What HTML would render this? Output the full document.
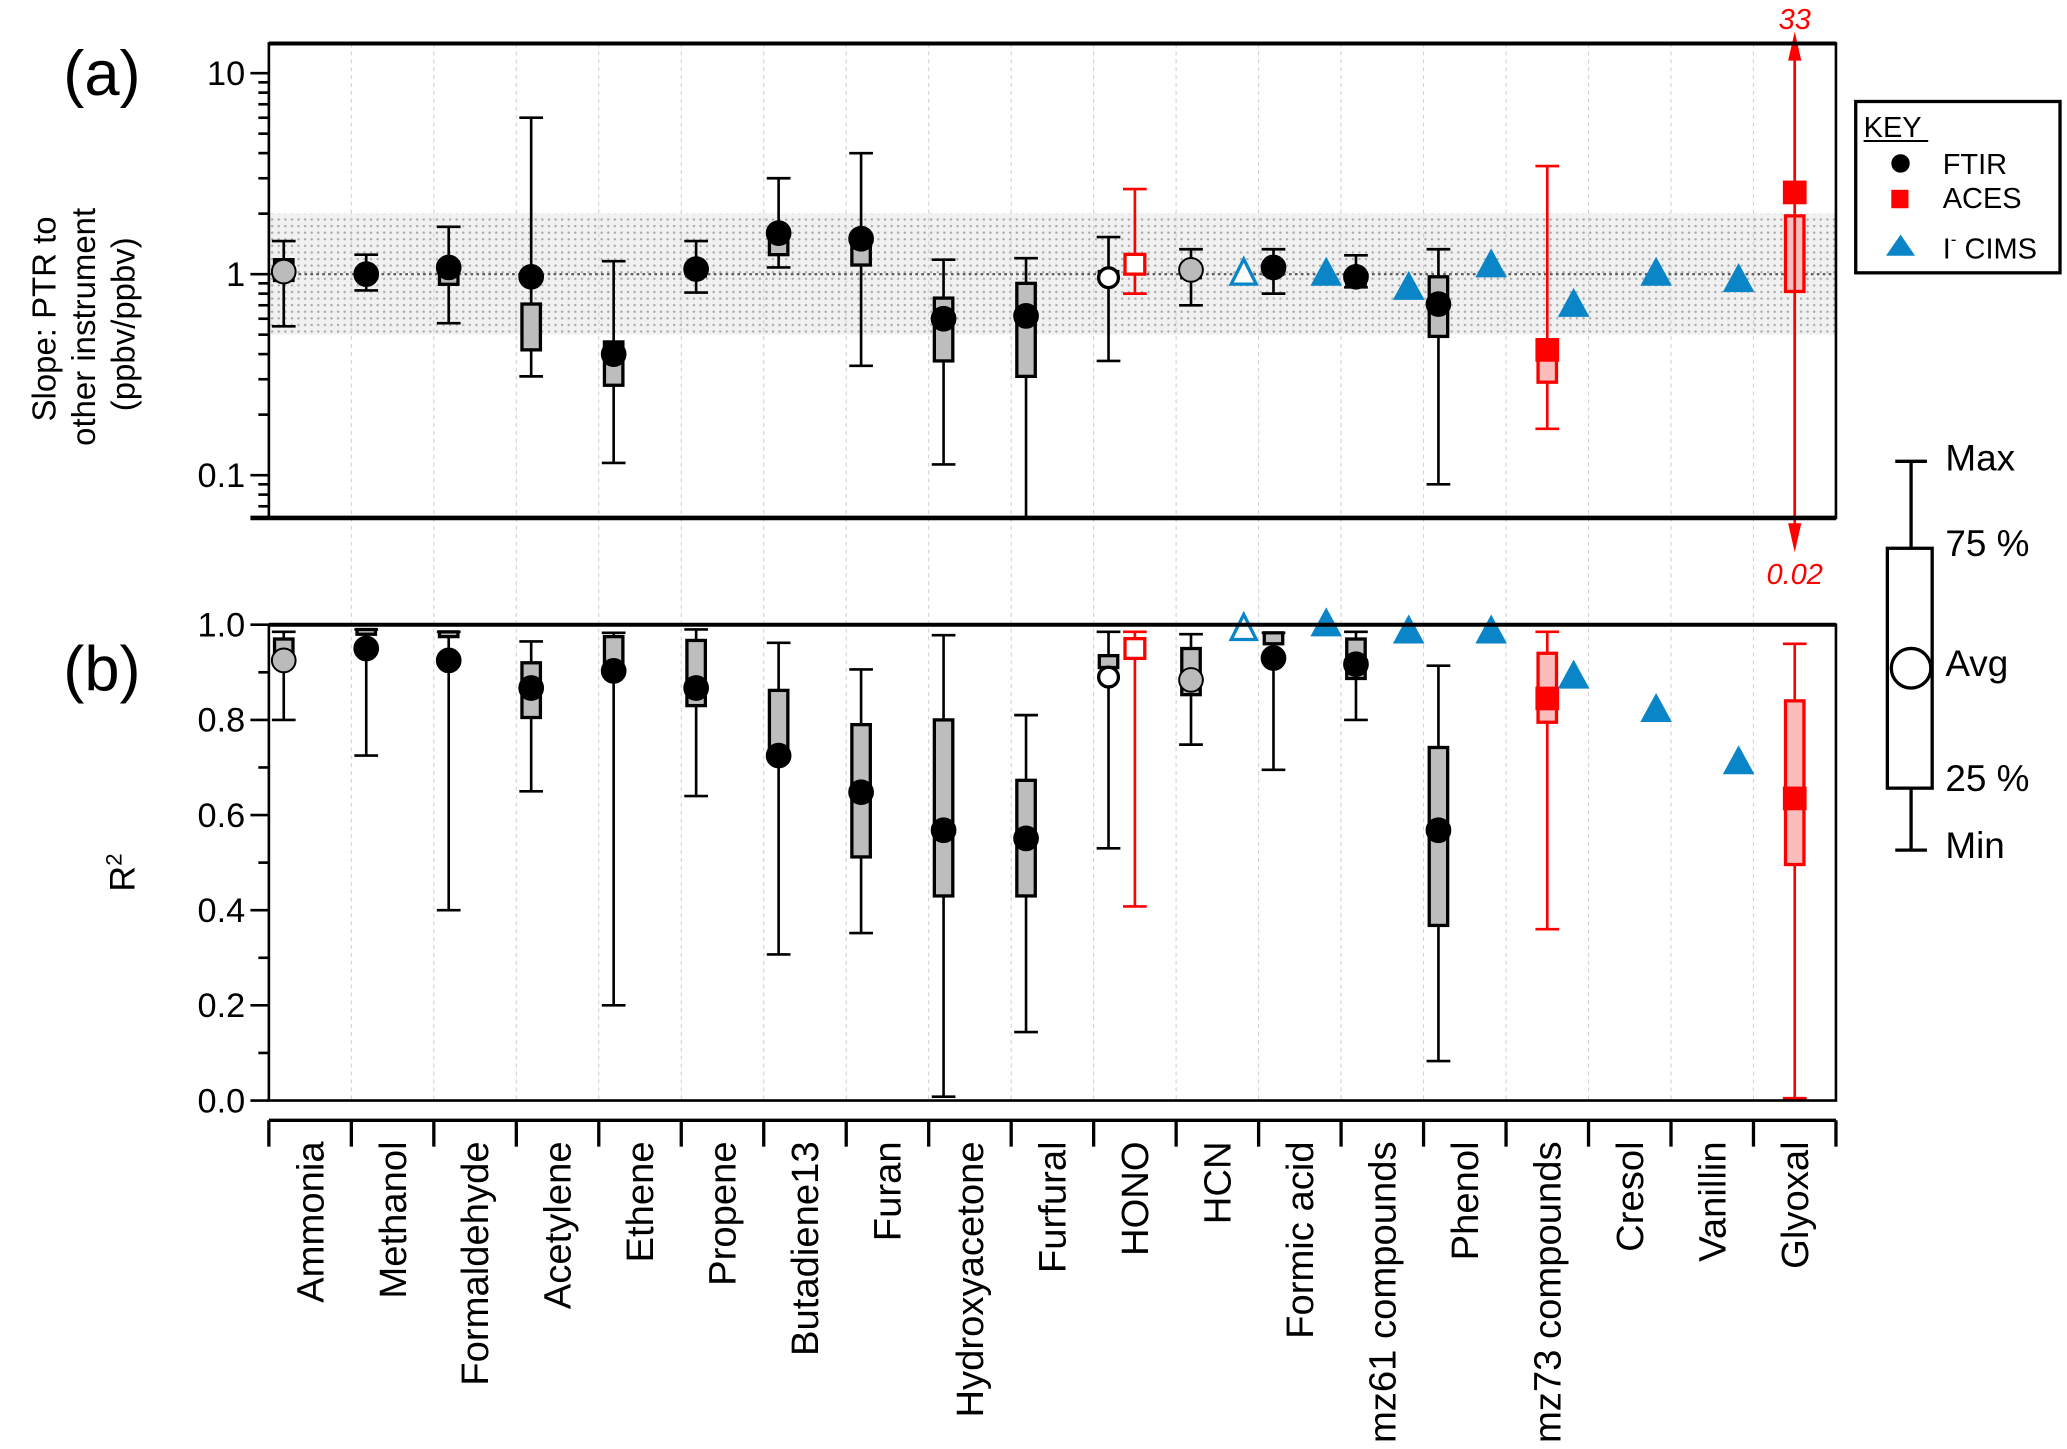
<!DOCTYPE html>
<html><head><meta charset="utf-8"><style>
html,body{margin:0;padding:0;background:#fff;}
svg{display:block;font-family:"Liberation Sans",sans-serif;}
</style></head><body>
<svg id="chart" width="2067" height="1449" viewBox="0 0 1568.3 1099.4" xmlns="http://www.w3.org/2000/svg">
<defs>
<pattern id="dots" width="5" height="5" patternUnits="userSpaceOnUse">
<rect width="5" height="5" fill="#f1f1f1"/>
<circle cx="1.5" cy="1.5" r="0.9" fill="#a8a8a8"/>
</pattern>
</defs>
<g id="root"></g>
</svg>
<script>
const categories=["Ammonia","Methanol","Formaldehyde","Acetylene","Ethene","Propene","Butadiene13","Furan","Hydroxyacetone","Furfural","HONO","HCN","Formic acid","mz61 compounds","Phenol","mz73 compounds","Cresol","Vanillin","Glyoxal"];
// [min, q1, avg, q3, max]
const ftirSlope=[[0.55,0.93,1.03,1.18,1.46],[0.83,0.98,1.0,1.02,1.25],[0.57,0.89,1.08,1.15,1.72],[0.31,0.42,0.97,0.71,6.0],[0.115,0.28,0.40,0.46,1.16],[0.81,0.98,1.06,1.12,1.46],[1.08,1.25,1.6,1.62,3.0],[0.35,1.11,1.5,1.39,4.0],[0.113,0.37,0.6,0.76,1.18],[0.04,0.31,0.62,0.9,1.2],[0.37,0.93,0.96,1.03,1.53],[0.7,0.96,1.05,1.12,1.33],[0.8,1.0,1.08,1.12,1.33],[0.86,0.89,0.97,1.0,1.24],[0.09,0.49,0.71,0.97,1.33],null,null,null,null];
const acesSlope=[null,null,null,null,null,null,null,null,null,null,[0.8,1.03,1.12,1.22,2.65],null,null,null,null,[0.17,0.29,0.42,0.42,3.45],null,null,[0.02,0.82,2.55,1.95,33]];
const cimsSlope=[null,null,null,null,null,null,null,null,null,null,null,1.0,1.0,0.85,1.1,0.7,1.0,0.93,null];
const ftirR2=[[0.80,0.93,0.925,0.97,0.985],[0.725,0.98,0.95,0.99,0.99],[0.40,0.975,0.925,0.985,0.985],[0.65,0.805,0.867,0.92,0.965],[0.2,0.915,0.903,0.975,0.983],[0.64,0.83,0.867,0.967,0.99],[0.307,0.726,0.725,0.862,0.962],[0.352,0.512,0.648,0.79,0.906],[0.008,0.43,0.568,0.8,0.978],[0.144,0.43,0.551,0.673,0.81],[0.53,0.91,0.89,0.935,0.985],[0.748,0.853,0.884,0.95,0.98],[0.695,0.96,0.93,0.983,0.983],[0.8,0.887,0.917,0.97,0.985],[0.083,0.368,0.568,0.742,0.914],null,null,null,null];
const acesR2=[null,null,null,null,null,null,null,null,null,null,[0.408,0.94,0.95,0.97,0.985],null,null,null,null,[0.36,0.795,0.845,0.94,0.985],null,null,[0.005,0.496,0.635,0.84,0.96]];
const cimsR2=[null,null,null,null,null,null,null,null,null,null,null,0.99,1.0,0.985,0.985,0.89,0.82,0.71,null];
const ftirStyle=["gray","black","black","black","black","black","black","black","black","black","open","gray","black","black","black",null,null,null,null];
const acesOpen=[false,false,false,false,false,false,false,false,false,false,true,false,false,false,false,false,false,false,false];
const cimsOpen=[false,false,false,false,false,false,false,false,false,false,false,true,false,false,false,false,false,false,false];
const slopeTicks=[10,1,0.1];
const slopeTickLabels=["10","1","0.1"];
const r2Ticks=[0,0.2,0.4,0.6,0.8,1.0];
const r2TickLabels=["0.0","0.2","0.4","0.6","0.8","1.0"];

const NS="http://www.w3.org/2000/svg";
const root=document.getElementById('root');
const X0=204,X1=1393,N=categories.length,CW=(X1-X0)/N;
const A_TOP=33,A_BOT=393,B_TOP=474,B_BOT=835;
const xc=i=>X0+(i+0.5)*CW;
const yA=v=>208-152.5*Math.log10(v);
const yB=v=>835-361*v;
function el(tag,attrs,parent,txt){const e=document.createElementNS(NS,tag);for(const k in attrs)e.setAttribute(k,attrs[k]);if(txt!==undefined)e.textContent=txt;(parent||root).appendChild(e);return e;}
const clipA=Math.max; 
function clampA(y){return Math.min(Math.max(y,A_TOP),A_BOT);}

// band
const band=el('rect',{x:X0,y:yA(2),width:X1-X0,height:yA(0.5)-yA(2),fill:'url(#dots)'});


// gridlines
for(let i=1;i<N;i++){const g=el('line',{x1:X0+i*CW,x2:X0+i*CW,y1:A_TOP,y2:B_BOT,stroke:'#d0d0d0','stroke-width':0.8,'stroke-dasharray':'3,3'});

}
const one=el('line',{x1:X0,x2:X1,y1:yA(1),y2:yA(1),stroke:'#555','stroke-width':1.6,'stroke-dasharray':'2,2.5'});



function box(x,s,yf,color,fill,clampF,name){
  const g=el('g',{});
  
  
  const ymin=clampF(yf(s[0])),ymax=clampF(yf(s[4]));
  el('line',{x1:x,x2:x,y1:ymin,y2:ymax,stroke:color,'stroke-width':2},g);
  if(yf(s[0])<=A_BOT||yf===yB) el('line',{x1:x-9,x2:x+9,y1:ymin,y2:ymin,stroke:color,'stroke-width':2},g);
  el('line',{x1:x-9,x2:x+9,y1:ymax,y2:ymax,stroke:color,'stroke-width':2},g);
  const yq3=yf(s[3]),yq1=yf(s[1]);
  el('rect',{x:x-7,y:Math.min(yq3,yq1),width:14,height:Math.max(Math.abs(yq1-yq3),2),fill:fill,stroke:color,'stroke-width':2.5},g);
  return g;
}
function circ(x,y,style,name){const c=el('circle',{cx:x,cy:y,r:(style==='open'?7.5:9),fill:style==='gray'?'#bbb':(style==='open'?'#fff':'#000'),stroke:'#000','stroke-width':style==='open'?2.5:1.5});}
function sq(x,y,open,name){const s=open?15:18;const r=el('rect',{x:x-s/2,y:y-s/2,width:s,height:s,fill:open?'#fff':'#f00',stroke:'#f00','stroke-width':open?2.5:0});}
function tri(x,y,open,name){const h=open?19:22,w=open?19:24;const p=el('polygon',{points:`${x},${y-h*0.6} ${x-w/2},${y+h*0.4} ${x+w/2},${y+h*0.4}`,fill:open?'#fff':'#0a85c8',stroke:'#0a85c8','stroke-width':open?2.5:0});}

[[yA,clampA,ftirSlope,acesSlope,cimsSlope,'slope'],[yB,y=>y,ftirR2,acesR2,cimsR2,'r2']].forEach(([yf,cf,F,A,C,tag])=>{
  for(let i=0;i<N;i++){
    const c=xc(i);
    if(F[i]){box(c-20,F[i],yf,'#000','#bdbdbd',cf,'ftir-'+tag+'-box');circ(c-20,yf(F[i][2]),ftirStyle[i],'ftir-'+tag+'-avg');}
    if(A[i]){box(c,A[i],yf,'#f00','#fbbcbc',cf,'aces-'+tag+'-box');sq(c,yf(A[i][2]),acesOpen[i],'aces-'+tag+'-avg');}
    if(C[i]!=null){tri(c+20,yf(C[i]),cimsOpen[i],'cims-'+tag+'-point');}
  }
});
// glyoxal arrows
(function(){const c=xc(18);const g=el('g',{});
el('line',{x1:c,x2:c,y1:28,y2:415,stroke:'#f00','stroke-width':2},g);
el('polygon',{points:`${c},24 ${c-5},46 ${c+5},46`,fill:'#f00'},g);
el('polygon',{points:`${c},419 ${c-5},397 ${c+5},397`,fill:'#f00'},g);
el('text',{x:c,y:22,'text-anchor':'middle','font-size':22,'font-style':'italic',fill:'#f00'},g,'33');
el('text',{x:c,y:443,'text-anchor':'middle','font-size':22,'font-style':'italic',fill:'#f00'},g,'0.02');})();

// frames
const fa=el('rect',{x:X0,y:A_TOP,width:X1-X0,height:A_BOT-A_TOP,fill:'none',stroke:'#000','stroke-width':2});
el('line',{x1:X0-14,x2:X1,y1:A_BOT,y2:A_BOT,stroke:'#000','stroke-width':3.5});
el('line',{x1:X0,x2:X1,y1:A_TOP,y2:A_TOP,stroke:'#000','stroke-width':3});
const fb=el('rect',{x:X0,y:B_TOP,width:X1-X0,height:B_BOT-B_TOP,fill:'none',stroke:'#000','stroke-width':2});
el('line',{x1:X0,x2:X1,y1:B_TOP,y2:B_TOP,stroke:'#000','stroke-width':3});
// y ticks a
for(let d=-2;d<=1;d++)for(let m=1;m<=9;m++){const v=m*Math.pow(10,d);const y=yA(v);if(y<A_TOP||y>A_BOT)continue;el('line',{x1:X0-(m===1?14:8),x2:X0,y1:y,y2:y,stroke:'#000','stroke-width':2});}
slopeTicks.forEach((v,i)=>{const t=el('text',{x:X0-18,y:yA(v)+9,'text-anchor':'end','font-size':26},root,slopeTickLabels[i]);});
for(let k=0;k<=10;k++){const y=yB(k/10);el('line',{x1:X0-(k%2===0?14:8),x2:X0,y1:y,y2:y,stroke:'#000','stroke-width':2});}
r2Ticks.forEach((v,i)=>{const t=el('text',{x:X0-18,y:yB(v)+9,'text-anchor':'end','font-size':26},root,r2TickLabels[i]);});
// category axis
el('line',{x1:X0,x2:X1,y1:850,y2:850,stroke:'#000','stroke-width':2.5});
for(let i=0;i<=N;i++){el('line',{x1:X0+i*CW,x2:X0+i*CW,y1:850,y2:870,stroke:'#000','stroke-width':2.5});}
categories.forEach((c,i)=>{const t=el('text',{x:0,y:0,'text-anchor':'end','font-size':29,transform:`translate(${xc(i)+10},866) rotate(-90)`},root,c);});
</script>
<svg x="0" y="0" width="2067" height="1449" viewBox="0 0 1568.3 1099.4" style="position:absolute;left:0;top:0">
<text x="48" y="72" font-size="48">(a)</text>
<text x="48" y="524" font-size="48">(b)</text>
<g font-size="25" text-anchor="middle">
<text transform="translate(42,242) rotate(-90)">Slope: PTR to</text>
<text transform="translate(72,248) rotate(-90)">other instrument</text>
<text transform="translate(102,246) rotate(-90)">(ppbv/ppbv)</text>
</g>
<text transform="translate(102,662) rotate(-90)" font-size="27" text-anchor="middle">R<tspan dy="-10" font-size="17">2</tspan></text>
<g>
<rect x="1408" y="77" width="155" height="130" fill="#fff" stroke="#000" stroke-width="2.5"/>
<text x="1414" y="104" font-size="22">KEY</text>
<line x1="1414" y1="107" x2="1463" y2="107" stroke="#000" stroke-width="1.5"/>
<circle cx="1442" cy="124" r="7" fill="#000"/><text x="1474" y="132" font-size="22">FTIR</text>
<rect x="1435" y="144" width="13" height="14" fill="#f00"/><text x="1474" y="158" font-size="22">ACES</text>
<polygon points="1442,178 1431,194 1453,194" fill="#0a85c8"/><text x="1474" y="196" font-size="22">I<tspan dy="-10" font-size="13">-</tspan><tspan dy="10"> CIMS</tspan></text>
</g>
<g stroke="#000" stroke-width="2.5">
<line x1="1438" y1="350" x2="1462" y2="350"/>
<line x1="1450" y1="350" x2="1450" y2="416"/>
<rect x="1432" y="416" width="34" height="182" fill="#fff"/>
<line x1="1450" y1="598" x2="1450" y2="645"/>
<line x1="1438" y1="645" x2="1462" y2="645"/>
<circle cx="1450" cy="507" r="15" fill="#fff"/>
</g>
<g font-size="28">
<text x="1476" y="357">Max</text><text x="1476" y="422">75 %</text><text x="1476" y="513">Avg</text><text x="1476" y="600">25 %</text><text x="1476" y="651">Min</text>
</g>
</svg>
</body></html>
